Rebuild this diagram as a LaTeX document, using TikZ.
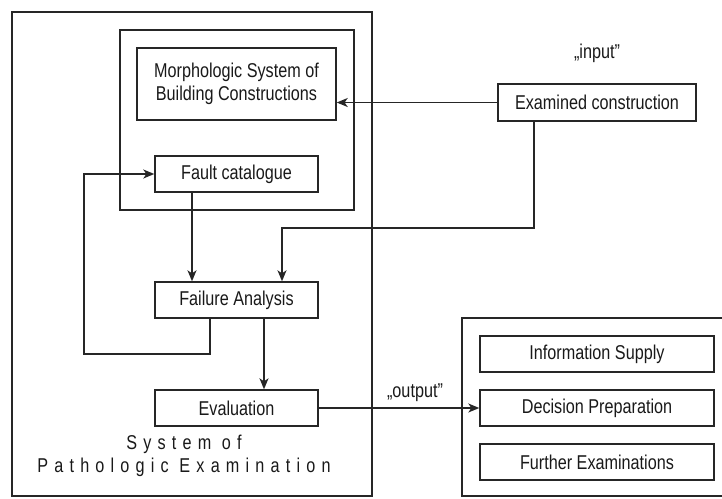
\documentclass[tikz,border=0pt]{standalone}
\usepackage{fontspec}
\setmainfont[FakeStretch=0.81]{Liberation Sans}
\newfontfamily\spacedfont[FakeStretch=0.81,LetterSpace=31]{Liberation Sans}
\usetikzlibrary{arrows.meta}
\begin{document}
\begin{tikzpicture}[x=1pt,y=-1pt,
  line width=1.4pt, draw={black!85},
  every node/.style={font=\fontsize{20}{23}\selectfont, text=black!90},
  box/.style={draw, inner sep=0pt, align=center},
  arr/.style={-{Stealth[length=11pt,width=9pt,inset=3pt]}},
  lbl/.style={inner sep=0pt}]
\useasboundingbox (0,0) rectangle (722,498);
% frames
\draw (12,12) rectangle (372,496);
\draw (120,30) rectangle (354,210);
\draw (722,318) -- (462,318) -- (462,496) -- (722,496);
% boxes
\node[box, minimum width=199pt, minimum height=72pt] (morph) at (236.5,84) {Morphologic System of\\Building Constructions};
\node[box, minimum width=163pt, minimum height=36pt] (fault) at (236.5,174) {Fault catalogue};
\node[box, minimum width=163pt, minimum height=36pt] (failure) at (236.5,300) {Failure Analysis};
\node[box, minimum width=163pt, minimum height=36pt] (eval) at (236.5,408) {Evaluation};
\node[box, minimum width=198pt, minimum height=37pt] (exam) at (597,102.5) {Examined construction};
\node[box, minimum width=234pt, minimum height=36pt] (info) at (597,354) {Information Supply};
\node[box, minimum width=234pt, minimum height=36pt] (decision) at (597,408) {Decision Preparation};
\node[box, minimum width=234pt, minimum height=36pt] (further) at (597,462) {Further Examinations};
% labels
\node[lbl] (input) at (597,53) {„input”};
\node[lbl] (output) at (415,393) {„output”};
\node[lbl, font=\fontsize{20}{23}\selectfont\spacedfont, align=center] (sys) at (184,456) {System of\\Pathologic Examination};
% connectors
\coordinate (bend) at (282,228);
\coordinate (lp) at (84,354);
\draw[arr] (exam.west) -- (exam.west -| morph.east);
\draw[arr] ([xshift=-44.5pt]fault.south) -- ([xshift=-44.5pt]failure.north);
\draw[arr] ([xshift=-63pt]exam.south) |- (bend) -- (bend |- failure.north);
\draw[arr] ([xshift=27.5pt]failure.south) -- ([xshift=27.5pt]eval.north);
\draw[arr] ([xshift=-26.5pt]failure.south) |- (lp) |- (fault.west);
\draw[arr] (eval.east) -- (decision.west);
\end{tikzpicture}
\end{document}
